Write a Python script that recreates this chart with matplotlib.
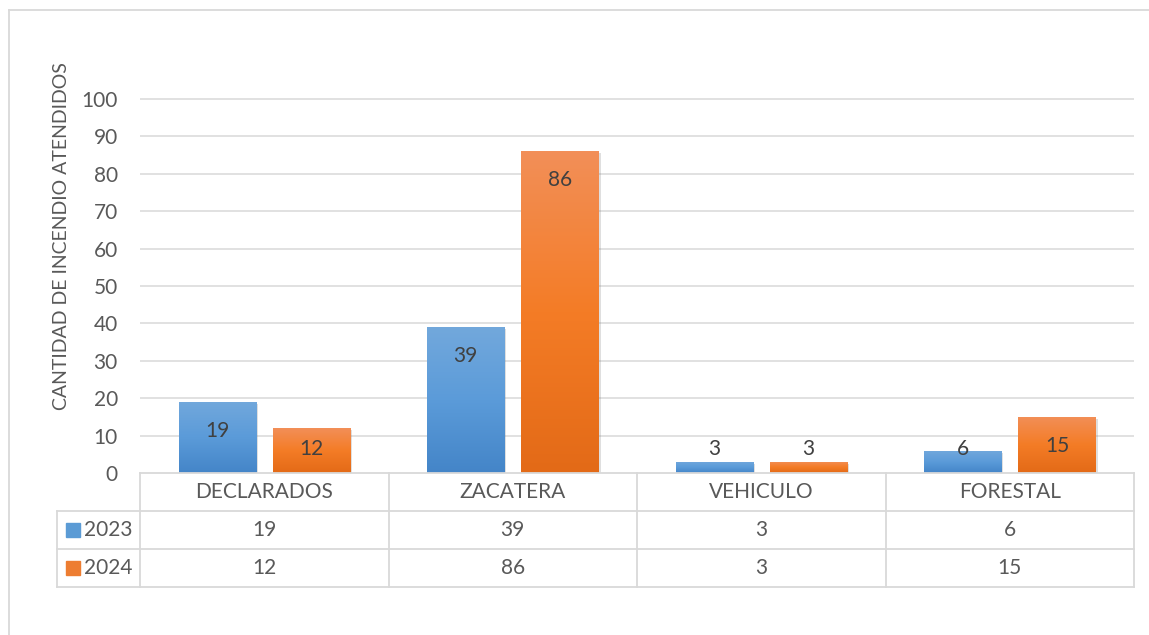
import numpy as np
import matplotlib
matplotlib.use('Agg')
import matplotlib.pyplot as plt
from matplotlib.colors import LinearSegmentedColormap
from matplotlib.lines import Line2D
import matplotlib.patheffects as pe

categories = ['DECLARADOS', 'ZACATERA', 'VEHICULO', 'FORESTAL']
series_names = ['2023', '2024']
values_2023 = [19, 39, 3, 6]
values_2024 = [12, 86, 3, 15]
yticks = [0, 10, 20, 30, 40, 50, 60, 70, 80, 90, 100]
ylabel = 'CANTIDAD DE INCENDIO ATENDIDOS'

plt.rcParams['font.family'] = ['Lato', 'DejaVu Sans']
TXT = '#595959'
GRID = '#d9d9d9'
FS = 15

W, H = 1149, 635
fig = plt.figure(figsize=(W / 100, H / 100), dpi=100)

def px(x0, y0, x1, y1):
    # pixel box (top-left origin) -> figure fraction rect
    return [x0 / W, 1 - y1 / H, (x1 - x0) / W, (y1 - y0) / H]

ymax = 100.5
ax = fig.add_axes(px(140, 473 - 374 * ymax / 100, 1134, 473))
ax.set_xlim(-0.5, len(categories) - 0.5)
ax.set_ylim(0, ymax)
for s in ax.spines.values():
    s.set_visible(False)
ax.set_xticks([])
ax.set_yticks(yticks)
ax.tick_params(axis='y', length=0, pad=16, labelsize=FS, labelcolor=TXT)
for t in yticks[1:]:
    ax.axhline(t, color=GRID, lw=1.1, zorder=0)

blue_cmap = LinearSegmentedColormap.from_list('b', ['#4485c8', '#5b9bd9', '#72a8dc'])
orange_cmap = LinearSegmentedColormap.from_list('o', ['#e36a17', '#f47c26', '#f28f58'])
grad = np.linspace(0, 1, 256).reshape(-1, 1)

x = np.arange(len(categories))
bw = 0.31
off = 0.19
shadow = [pe.SimplePatchShadow(offset=(1.5, -1.5), alpha=0.25, shadow_rgbFace='#808080'), pe.Normal()]
for vals, sign, cmap in [(values_2023, -1, blue_cmap), (values_2024, 1, orange_cmap)]:
    bars = ax.bar(x + sign * off, vals, width=bw, color='none', zorder=2)
    for b, v in zip(bars, vals):
        x0, w, h = b.get_x(), b.get_width(), b.get_height()
        sh = plt.Rectangle((x0, 0), w, h, facecolor='white', edgecolor='none', zorder=1.9,
                           path_effects=shadow)
        ax.add_patch(sh)
        im = ax.imshow(grad, cmap=cmap, origin='lower', aspect='auto',
                       extent=(x0, x0 + w, 0, h), zorder=2)
        im.set_clip_path(b)
        ax.text(x0 + w / 2, max(v - 7.7, 6.35), str(v), ha='center', va='center',
                fontsize=FS, color='#404040', zorder=3)
ax.set_xlim(-0.5, len(categories) - 0.5)
ax.set_ylim(0, ymax)

# data table below the plot
tab = fig.add_axes(px(140, 473, 1134, 587))
tab.set_xlim(-0.5, len(categories) - 0.5)
tab.set_ylim(3, 0)
tab.axis('off')
left = -0.5 - (140 - 57) / 248.5
lk = dict(color=GRID, lw=1.3, clip_on=False)
tab.plot([-0.5, len(categories) - 0.5], [0, 0], **lk)
for r in [1, 2, 3]:
    tab.plot([left, len(categories) - 0.5], [r, r], **lk)
tab.plot([left, left], [1, 3], **lk)
for c in range(len(categories) + 1):
    tab.plot([c - 0.5, c - 0.5], [0, 3], **lk)
for i, name in enumerate(categories):
    tab.text(i, 0.5, name, ha='center', va='center', fontsize=FS, color=TXT)
    tab.text(i, 1.5, str(values_2023[i]), ha='center', va='center', fontsize=FS, color=TXT)
    tab.text(i, 2.5, str(values_2024[i]), ha='center', va='center', fontsize=FS, color=TXT)
for r, (name, col) in enumerate(zip(series_names, ['#5b9bd5', '#ed7d31'])):
    tab.plot([left + 0.065], [r + 1.5], marker='s', ms=10, color=col, clip_on=False)
    tab.text(left + 0.11, r + 1.5, name, ha='left', va='center', fontsize=FS, color=TXT)

fig.text(62 / W, 1 - 236 / H, ylabel, rotation=90, ha='center', va='center',
         fontsize=14, color=TXT)

# chart frame (left and top edges visible)
fig.add_artist(Line2D([9 / W, 9 / W], [0, 1 - 10 / H], color=GRID, lw=1.3))
fig.add_artist(Line2D([9 / W, 1], [1 - 10 / H, 1 - 10 / H], color=GRID, lw=1.3))

fig.savefig('out.png', dpi=100, facecolor='white')
